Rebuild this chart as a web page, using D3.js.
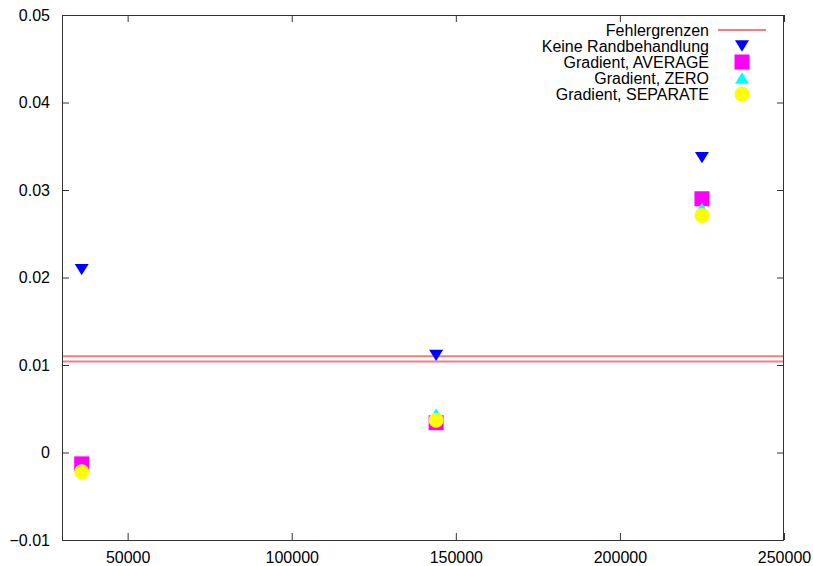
<!DOCTYPE html>
<html><head><meta charset="utf-8">
<script src="https://cdn.jsdelivr.net/npm/d3@7"></script>
<style>body{margin:0;background:#fff}svg{display:block}</style>
</head><body>
<svg id="c" width="813" height="566"></svg>
<script>
const xValues = [36000, 144000, 225000];
const keine = [0.0209, 0.0111, 0.0337];
const average = [-0.0013, 0.0034, 0.0290];
const zero = [-0.0019, 0.0044, 0.0279];
const separate = [-0.0022, 0.0037, 0.0271];
const errorLimits = [0.0110, 0.0104];
const xTicks = [50000, 100000, 150000, 200000, 250000];
const yTicks = [-0.01, 0, 0.01, 0.02, 0.03, 0.04, 0.05];
const legendLabels = ["Fehlergrenzen", "Keine Randbehandlung", "Gradient, AVERAGE", "Gradient, ZERO", "Gradient, SEPARATE"];

const svg = d3.select("#c");
const L = 62, R = 784, T = 15, B = 540;
const x = d3.scaleLinear().domain([30000, 250000]).range([L, R]);
const y = d3.scaleLinear().domain([-0.01, 0.05]).range([B, T]);
const font = "'Liberation Sans', Arial, sans-serif";
const fs = 16;
const tl = 7;
const axCol = "#333";

const g = svg.append("g");
const xb = g.append("g").attr("transform", `translate(0,${B})`)
  .call(d3.axisBottom(x).tickValues(xTicks).tickSize(-tl).tickPadding(12).tickFormat(d3.format("d")));
const xt = g.append("g").attr("transform", `translate(0,${T})`)
  .call(d3.axisTop(x).tickValues(xTicks).tickSize(-tl).tickFormat(""));
const yl = g.append("g").attr("transform", `translate(${L},0)`)
  .call(d3.axisLeft(y).tickValues(yTicks).tickSize(-tl).tickPadding(12).tickFormat(d => d === 0 ? "0" : d3.format(".2f")(d).replace("-", "\u2212")));
const yr = g.append("g").attr("transform", `translate(${R},0)`)
  .call(d3.axisRight(y).tickValues(yTicks).tickSize(-tl).tickFormat(""));
[xb, xt, yl, yr].forEach(a => {
  a.select(".domain").remove();
  a.selectAll("line").attr("stroke", axCol);
  a.selectAll("text").attr("font-family", font).attr("font-size", fs).attr("fill", "#000");
});
xb.selectAll("text").attr("dy", "0.71em");
g.append("rect").attr("x", L + 0.5).attr("y", T + 0.5).attr("width", R - L - 1).attr("height", B - T)
  .attr("fill", "none").attr("stroke", axCol);

g.selectAll(".err").data(errorLimits).join("line")
  .attr("x1", L + 1).attr("x2", R - 1)
  .attr("y1", d => y(d)).attr("y2", d => y(d))
  .attr("stroke", "#f08080").attr("stroke-width", 2);

const s = 7.5;
const tw = 7, th = 5.7;
const shapes = {
  down: `M${-tw},${-th}L${tw},${-th}L0,${th}Z`,
  up: `M${-tw},${th}L${tw},${th}L0,${-th}Z`,
  square: `M${-s},${-s}H${s}V${s}H${-s}Z`,
  circle: d3.symbol(d3.symbolCircle, Math.PI * s * s)()
};
const series = [
  {vals: keine, shape: "down", color: "#0000ff"},
  {vals: average, shape: "square", color: "#ff00ff"},
  {vals: zero, shape: "up", color: "#00ffff"},
  {vals: separate, shape: "circle", color: "#ffff00"}
];
series.forEach(sr => {
  g.append("g").selectAll("path").data(sr.vals).join("path")
    .attr("d", shapes[sr.shape])
    .attr("transform", (d, i) => `translate(${x(xValues[i])},${y(d)})`)
    .attr("fill", sr.color);
});

const lx = 709, ly0 = 30, ldy = 16;
const leg = g.append("g");
legendLabels.forEach((lab, i) => {
  const yy = ly0 + i * ldy;
  leg.append("text").attr("x", lx).attr("y", yy).attr("dy", "0.35em")
    .attr("text-anchor", "end").attr("font-family", font).attr("font-size", fs).text(lab);
  if (i === 0) {
    leg.append("line").attr("x1", 718).attr("x2", 766).attr("y1", yy).attr("y2", yy)
      .attr("stroke", "#f08080").attr("stroke-width", 2);
  } else {
    const sr = series[i - 1];
    leg.append("path").attr("d", shapes[sr.shape]).attr("transform", `translate(742,${yy})`).attr("fill", sr.color);
  }
});
</script>
</body></html>
